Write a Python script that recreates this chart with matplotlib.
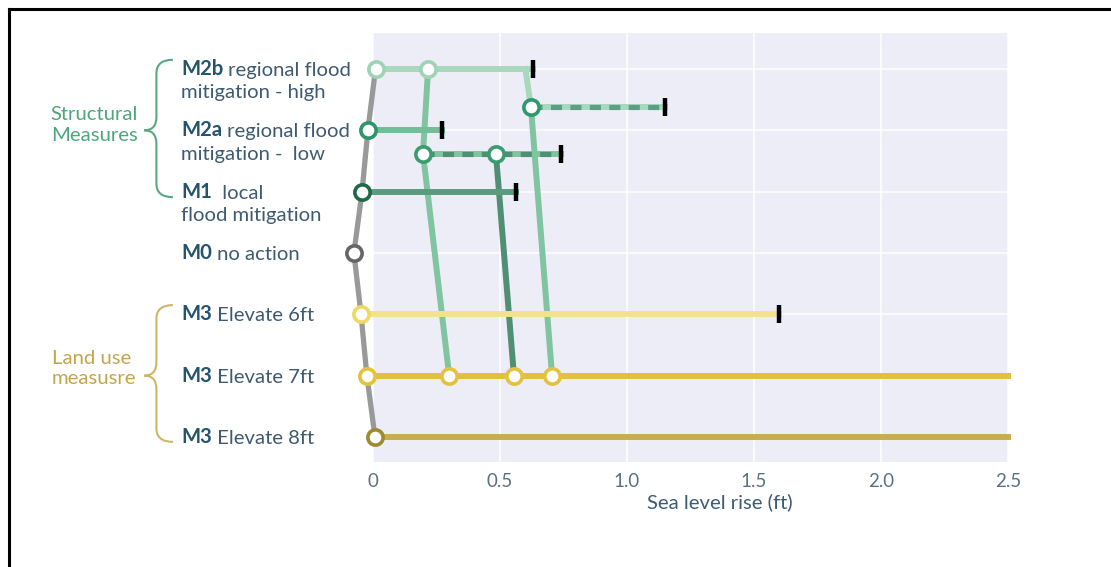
import matplotlib
matplotlib.use('Agg')
import matplotlib.pyplot as plt
from matplotlib import transforms
from matplotlib.path import Path
from matplotlib.patches import PathPatch
from matplotlib.lines import Line2D

plt.rcParams['font.family'] = ['Lato', 'DejaVu Sans']
plt.rcParams['lines.scale_dashes'] = False

# rows of the pathway chart (top to bottom)
row_codes = ['M2b', 'M2a', 'M1', 'M0', 'M3', 'M3', 'M3']
row_line1 = [' regional flood', ' regional flood', '  local', ' no action',
             ' Elevate 6ft', ' Elevate 7ft', ' Elevate 8ft']
row_line2 = ['mitigation - high', 'mitigation -  low', 'flood mitigation', '', '', '', '']
row_pos = [6, 5, 4, 3, 2, 1, 0]

# start of each measure (sea level rise, ft) and its tipping point
row_start = [0.010, -0.020, -0.043, -0.075, -0.047, -0.024, 0.008]
row_end = [0.630, 0.272, 0.563, None, 1.598, 2.5, 2.5]
row_tips = [True, True, True, False, True, False, False]

# intermediate rows for transfers between regional measures
m2b_alt_pos = 5.38
m2b_alt_x = [0.622, 1.15]
m2a_alt_pos = 4.62
m2a_alt_x = [0.197, 0.484, 0.74]

# transfer pathways (x, y)
path_a_x = [0.217, 0.197, 0.30]
path_a_y = [6, 4.62, 1]
path_b_x = [0.484, 0.555]
path_b_y = [4.62, 1]
path_c_x = [0.600, 0.622, 0.705]
path_c_y = [6, 5.38, 1]
m2b_switch_x = 0.217
e7_switch_x = [0.30, 0.555, 0.705]

xticks = [0, 0.5, 1.0, 1.5, 2.0, 2.5]
xtick_labels = ['0', '0.5', '1.0', '1.5', '2.0', '2.5']

line_cols = ['#a8d8be', '#74bd98', '#5b9b7f', '#999999', '#f2e290', '#e2c13f', '#c9ab52']
edge_cols = ['#9fd3b5', '#2e946a', '#1d6a48', '#666666', '#f0d862', '#e2c23e', '#a08a30']
mid_green = '#80c4a2'
dark_green = '#4f8f73'

FS = 14.6

fig = plt.figure(figsize=(11.11, 5.67), dpi=100)
ax = fig.add_axes([0.3357, 0.1852, 0.5716, 0.7566])
ax.set_facecolor('#ededf7')
ax.set_xlim(0, 2.5)
ax.set_ylim(-0.408, 6.587)
for s in ax.spines.values():
    s.set_visible(False)
ax.set_yticks(row_pos)
ax.set_yticklabels([])
ax.set_xticks(xticks, xtick_labels)
ax.tick_params(length=0, labelsize=13.5, labelcolor='#5a6f86', pad=8)
ax.grid(color='white', linewidth=1.1)
ax.set_axisbelow(True)
ax.set_xlabel('Sea level rise (ft)', fontsize=FS, color='#3e5a74')
ax.xaxis.set_label_coords(0.546, -0.073)

LW = 4.3
MS = 11
MEW = 2.6

# grey no-action spine
ax.plot(row_start, row_pos, color='#999999', lw=3.8, zorder=2, clip_on=False,
        solid_capstyle='round')

# transfer pathways
ax.plot(path_c_x[:2], path_c_y[:2], color=line_cols[0], lw=LW, zorder=3, clip_on=False)
ax.plot(path_c_x[1:], path_c_y[1:], color=mid_green, lw=LW, zorder=3, clip_on=False)
ax.plot(path_a_x, path_a_y, color=mid_green, lw=LW, zorder=3, clip_on=False)
ax.plot(path_b_x, path_b_y, color=dark_green, lw=LW, zorder=3, clip_on=False)

# main measure lines
for i in range(len(row_pos)):
    if row_end[i] is None:
        continue
    ax.plot([row_start[i], row_end[i]], [row_pos[i]] * 2, color=line_cols[i],
            lw=LW, zorder=4, clip_on=False)
    if row_tips[i]:
        ax.plot(row_end[i], row_pos[i], marker='|', color='black', ms=13,
                mew=3.2, zorder=7, clip_on=False)

# dashed transfer rows
ax.plot([m2b_alt_x[0], m2b_alt_x[-1]], [m2b_alt_pos] * 2, color=line_cols[0],
        lw=LW, zorder=4)
ax.plot([m2b_alt_x[0], m2b_alt_x[-1]], [m2b_alt_pos] * 2, color='#5f9e82',
        lw=LW - 0.6, dashes=(8, 6), zorder=4.5)
ax.plot(m2b_alt_x[-1], m2b_alt_pos, marker='|', color='black', ms=13, mew=3.2, zorder=7)
ax.plot([m2a_alt_x[0], m2a_alt_x[-1]], [m2a_alt_pos] * 2, color=mid_green,
        lw=LW, zorder=4)
ax.plot([m2a_alt_x[0], m2a_alt_x[-1]], [m2a_alt_pos] * 2, color=dark_green,
        lw=LW - 0.6, dashes=(8, 6), zorder=4.5)
ax.plot(m2a_alt_x[-1], m2a_alt_pos, marker='|', color='black', ms=13, mew=3.2, zorder=7)

# markers
mk = dict(marker='o', ms=MS, mew=MEW, mfc='white', ls='none', zorder=8, clip_on=False)
for i in range(len(row_pos)):
    ax.plot(row_start[i], row_pos[i], mec=edge_cols[i], **mk)
ax.plot(m2b_switch_x, row_pos[0], mec=edge_cols[0], **mk)
ax.plot(m2b_alt_x[0], m2b_alt_pos, mec='#2e9a6c', **mk)
ax.plot(m2a_alt_x[:2], [m2a_alt_pos] * 2, mec='#3a9c70', **mk)
ax.plot(e7_switch_x, [row_pos[5]] * 3, mec=edge_cols[5], **mk)

# row labels
trans = transforms.blended_transform_factory(ax.transAxes, ax.transData)
lab_x = -0.302
for i in range(len(row_pos)):
    t = ax.text(lab_x, row_pos[i], row_codes[i], transform=trans, fontsize=FS,
                fontweight='bold', color='#24546e', ha='left', va='center')
    ax.annotate(row_line1[i], xy=(1, 0), xycoords=t, fontsize=FS,
                color='#3f5a70', ha='left', va='bottom')
    if row_line2[i]:
        ax.text(lab_x, row_pos[i] - 0.39, row_line2[i], transform=trans,
                fontsize=FS, color='#3f5a70', ha='left', va='center')


def draw_brace(y_top, y_tip, y_bot, color):
    x1, xm, x0 = -0.315, -0.341, -0.360
    r = 0.22
    verts = [(x1, y_top), (xm, y_top), (xm, y_top - r),
             (xm, y_tip + r),
             (xm, y_tip), (x0, y_tip),
             (xm, y_tip), (xm, y_tip - r),
             (xm, y_bot + r),
             (xm, y_bot), (x1, y_bot)]
    codes = [Path.MOVETO, Path.CURVE3, Path.CURVE3,
             Path.LINETO,
             Path.CURVE3, Path.CURVE3,
             Path.CURVE3, Path.CURVE3,
             Path.LINETO,
             Path.CURVE3, Path.CURVE3]
    ax.add_patch(PathPatch(Path(verts, codes), fc='none', ec=color, lw=1.5,
                           transform=trans, clip_on=False))


draw_brace(6.15, 5.0, 3.91, '#5aa883')
draw_brace(2.15, 1.0, -0.08, '#cdb66a')
ax.text(-0.370, 5.09, 'Structural\nMeasures', transform=trans, fontsize=FS,
        color='#4ea67c', ha='right', va='center', multialignment='right',
        linespacing=1.25)
ax.text(-0.5055, 1.12, 'Land use\nmeasusre', transform=trans, fontsize=FS,
        color='#c4a54c', ha='left', va='center', multialignment='left',
        linespacing=1.25)

# frame lines of the screenshot
fig.add_artist(Line2D([0.008, 1.0], [0.984, 0.984], color='black', lw=2.2,
                      transform=fig.transFigure))
fig.add_artist(Line2D([0.008, 0.008], [0.0, 0.984], color='black', lw=2.2,
                      transform=fig.transFigure))

fig.savefig('out.png', dpi=100)
